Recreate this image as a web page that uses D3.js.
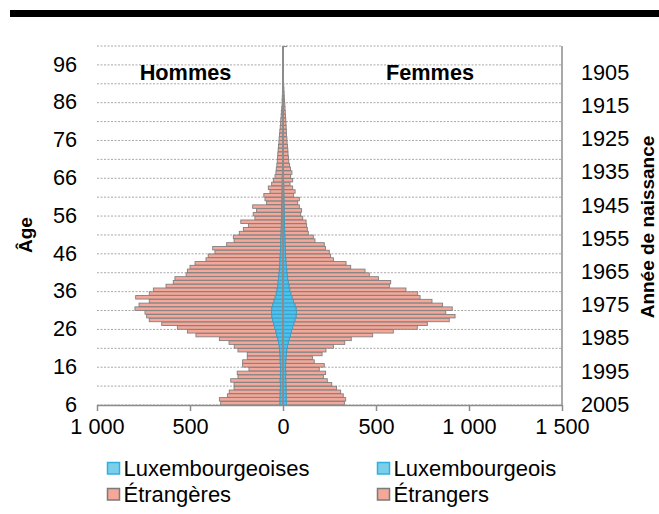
<!DOCTYPE html>
<html><head><meta charset="utf-8">
<script src="https://cdn.jsdelivr.net/npm/d3@7"></script>
<style>body{margin:0;background:#fff}svg{display:block}text{font-family:"Liberation Sans",Arial,sans-serif;fill:#000}</style>
</head><body><svg id="c" width="659" height="514"></svg>
<script>
// Categories: ages 6..100
const ages = d3.range(6, 101);
const ageTicks = [6, 16, 26, 36, 46, 56, 66, 76, 86, 96];
const yearTicks = [2005, 1995, 1985, 1975, 1965, 1955, 1945, 1935, 1925, 1915, 1905];
const valueTicks = [-1000, -500, 0, 500, 1000, 1500];
const valueTickLabels = ["1 000", "500", "0", "500", "1 000", "1 500"];

// Hommes (ages 6..100)
const hommesLux = [16,16,15,15,14,14,15,14,14,13,14,15,15,16,18,20,24,28,34,38,44,50,56,60,62,60,55,48,42,36,32,28,26,24,22,20,18,17,16,15,14,13,12,12,11,10,10,9,9,8,8,7,7,6,6,5,5,5,4,4,4,3,3,3,3,2,2,2,2,2,2,2,1,1,1,1,1,1,1,1,1,1,1,1,0,0,0,0,0,0,0,0,0,0,0];
const hommesEtr = [319,326,284,274,249,249,266,228,232,170,203,202,177,176,224,242,266,314,434,476,524,602,663,673,680,736,719,671,750,683,665,601,564,557,499,494,482,456,398,387,352,365,291,251,256,225,203,177,218,143,152,135,156,82,91,98,65,74,57,48,39,35,33,30,28,27,26,24,22,20,19,17,16,14,12,11,9,8,6,4,4,3,2,2,2,2,1,1,1,1,0,0,0,0,0];
// Femmes (ages 6..100)
const femmesLux = [18,17,17,16,16,15,15,14,15,14,14,15,16,18,20,24,28,34,40,46,52,58,64,70,72,70,64,56,48,42,36,32,28,25,22,20,18,16,15,14,13,12,11,10,10,9,9,8,8,7,7,6,6,5,5,5,4,4,4,3,3,3,2,2,2,2,2,2,2,2,2,2,1,1,1,1,1,1,1,1,1,1,1,1,0,0,0,0,0,0,0,0,0,0,0];
const femmesEtr = [312,320,307,294,272,247,223,203,214,181,208,153,142,192,211,247,304,333,442,547,670,718,830,855,803,840,794,745,689,682,625,540,551,488,442,421,346,323,256,242,236,216,211,162,153,127,122,119,116,99,88,94,82,74,83,51,61,48,34,49,38,45,38,33,29,27,25,24,22,20,19,17,17,16,15,14,12,11,10,9,7,6,5,4,4,3,3,2,2,1,1,1,0,0,0];

const legendLabels = ["Luxembourgeoises", "Luxembourgeois", "Étrangères", "Étrangers"];

const blueFill = "#4cc2ee", blueStroke = "#3a9fc8";
const pinkFill = "#f5a899", greyStroke = "#7f7f7f";
const axisCol = "#8c8c8c";
const labelSize = "21.7px";

const svg = d3.select("#c");
const x = d3.scaleLinear().domain([-1000, 1500]).range([97, 562]);
const y = d3.scaleBand().domain(ages).range([405, 46]).paddingInner(0.08).paddingOuter(0.04);
const step = y.step();
const yBottom = a => 405 - (ages.indexOf(a)) * step;   // lower boundary of an age's band
const yr = d3.scalePoint().domain(yearTicks).range([404, 72]);

// top black rule
svg.append("rect").attr("x", 10).attr("y", 10).attr("width", 649).attr("height", 7).attr("fill", "#000");

// dotted gridlines every 5 ages
const gridAges = ages.filter(a => (a - 6) % 5 === 0);
const gridY = gridAges.map(yBottom).concat([405 - ages.length * step]);
svg.append("g").selectAll("line").data(gridY).join("line")
  .attr("x1", x(-1000)).attr("x2", x(1500))
  .attr("y1", d => d).attr("y2", d => d)
  .attr("stroke", "#a8a8a8").attr("stroke-width", 1).attr("stroke-dasharray", "2,1.5");

// bars
const rows = ages.map((a, i) => ({a, hl: hommesLux[i], he: hommesEtr[i], fl: femmesLux[i], fe: femmesEtr[i]}));
const gb = svg.append("g");
function bar(x0v, x1v, a, fill, stroke) {
  if (x1v === x0v) return;
  const xa = x(Math.min(x0v, x1v)), xb = x(Math.max(x0v, x1v));
  gb.append("rect").attr("x", xa).attr("y", y(a)).attr("width", xb - xa).attr("height", y.bandwidth())
    .attr("fill", fill).attr("stroke", stroke).attr("stroke-width", 0.9);
}
rows.forEach(r => {
  bar(-r.hl, -(r.hl + r.he), r.a, pinkFill, greyStroke);
  bar(0, -r.hl, r.a, blueFill, blueStroke);
  bar(r.fl, r.fl + r.fe, r.a, pinkFill, greyStroke);
  bar(0, r.fl, r.a, blueFill, blueStroke);
});

// central vertical axis (value 0)
svg.append("line").attr("x1", x(0)).attr("x2", x(0)).attr("y1", 46).attr("y2", 405)
  .attr("stroke", axisCol).attr("stroke-width", 2);
svg.append("line").attr("x1", x(0)).attr("x2", x(0) + 4).attr("y1", 46.5).attr("y2", 46.5)
  .attr("stroke", axisCol).attr("stroke-width", 1.2);
// right border
svg.append("line").attr("x1", x(1500)).attr("x2", x(1500)).attr("y1", 46).attr("y2", 405)
  .attr("stroke", axisCol).attr("stroke-width", 1.5);

// bottom value axis
const xAxis = d3.axisBottom(x).tickValues(valueTicks).tickSize(6).tickSizeOuter(0)
  .tickFormat((d, i) => valueTickLabels[i]);
const gx = svg.append("g").attr("transform", "translate(0,405)").call(xAxis);
gx.select(".domain").attr("stroke", axisCol).attr("stroke-width", 1.5);
gx.selectAll(".tick line").attr("stroke", axisCol).attr("stroke-width", 1.5);
gx.selectAll(".tick text").attr("font-size", labelSize).attr("fill", "#000")
  .attr("y", 14).attr("dy", "0.71em").style("font-family", '"Liberation Sans",Arial,sans-serif');

// left age labels
svg.append("g").selectAll("text").data(ageTicks).join("text")
  .attr("x", 77).attr("y", d => yBottom(d) - 1).attr("dy", "0.36em")
  .attr("text-anchor", "end").attr("font-size", labelSize).text(d => d);

// right year labels
svg.append("g").selectAll("text").data(yearTicks).join("text")
  .attr("x", 581).attr("y", d => yr(d)).attr("dy", "0.36em")
  .attr("text-anchor", "start").attr("font-size", labelSize).text(d => d);

// axis titles
svg.append("text").attr("transform", "translate(32,235) rotate(-90)")
  .attr("text-anchor", "middle").attr("font-size", "19px").attr("font-weight", "bold").text("Âge");
svg.append("text").attr("transform", "translate(654,227) rotate(-90)")
  .attr("text-anchor", "middle").attr("font-size", "19px").attr("font-weight", "bold").text("Année de naissance");

// Hommes / Femmes
svg.append("text").attr("x", 185.5).attr("y", 80).attr("text-anchor", "middle")
  .attr("font-size", "21.7px").attr("font-weight", "bold").text("Hommes");
svg.append("text").attr("x", 430).attr("y", 80).attr("text-anchor", "middle")
  .attr("font-size", "21.7px").attr("font-weight", "bold").text("Femmes");

// legend
const legendItems = [
  {label: legendLabels[0], fill: "#7bcfea", stroke: "#2fb0e0", lx: 107.5, ly: 462.5},
  {label: legendLabels[1], fill: "#7bcfea", stroke: "#2fb0e0", lx: 377.5, ly: 462.5},
  {label: legendLabels[2], fill: "#f5a899", stroke: "#7a7a7a", lx: 107.5, ly: 488.5},
  {label: legendLabels[3], fill: "#f5a899", stroke: "#7a7a7a", lx: 377.5, ly: 488.5}
];
const lg = svg.append("g");
legendItems.forEach(it => {
  lg.append("rect").attr("x", it.lx).attr("y", it.ly).attr("width", 12).attr("height", 11.5)
    .attr("fill", it.fill).attr("stroke", it.stroke).attr("stroke-width", 1.5);
  lg.append("text").attr("x", it.lx + 16).attr("y", it.ly + 13.5)
    .attr("font-size", "22px").text(it.label);
});
</script></body></html>
